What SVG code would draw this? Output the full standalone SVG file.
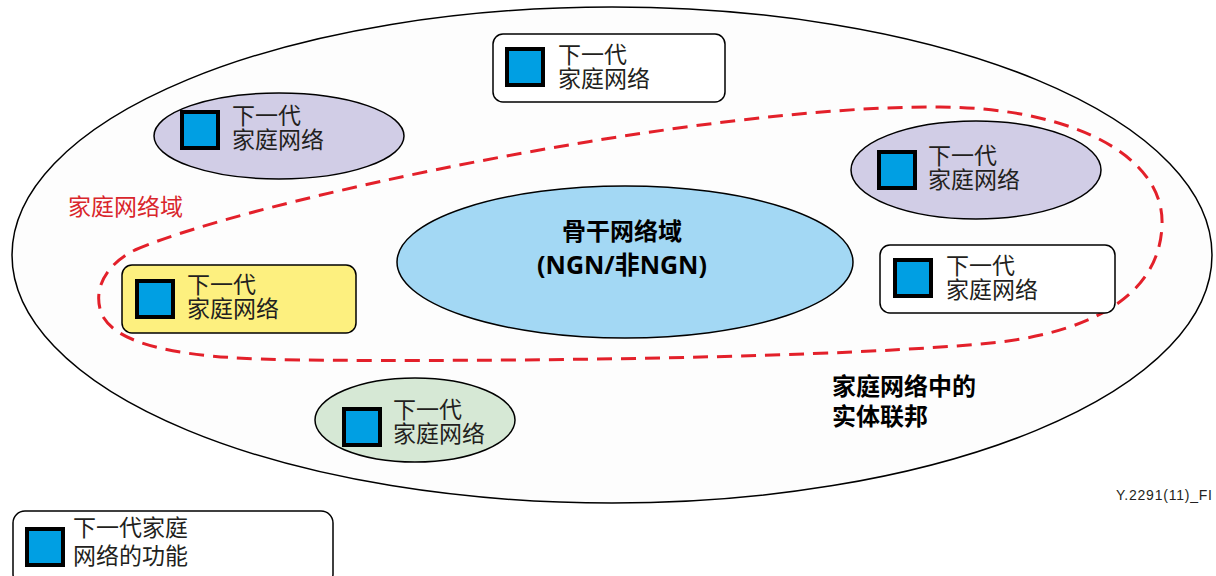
<svg xmlns="http://www.w3.org/2000/svg" width="1216" height="576" viewBox="0 0 1216 576">
<defs>
<style>
.t{font-family:"Liberation Sans","Noto Sans CJK SC",sans-serif;font-size:23px;fill:#231f20}
.b{font-family:"Noto Sans","Noto Sans CJK SC",sans-serif;font-size:24px;font-weight:bold;fill:#000}
.sq{fill:#009fe3;stroke:#000;stroke-width:4}
.ln{stroke:#000;stroke-width:1.5}
.box{fill:#fff;stroke:#000;stroke-width:1.5}
.pur{fill:#d1cde6;stroke:#000;stroke-width:1.5}
</style>
<rect id="icon" width="36" height="36" class="sq"/>
</defs>
<rect width="1216" height="576" fill="#fff"/>
<g id="federation">
<ellipse cx="612" cy="255" rx="600" ry="248" fill="#fdfdfd" class="ln"/>
</g>
<g id="connectors">
<path d="M135,250 C250,200 700,105 940,107 C1080,108 1165,160 1162,225 C1160,290 1100,330 1000,342 C850,358 500,362 300,360 C200,359 120,350 102,315 C92,290 105,265 135,250 Z" fill="none" stroke="#e3202a" stroke-width="3" stroke-dasharray="15 9"/>
</g>
<g id="home-domain-label">
<text x="68" y="215" class="t" style="fill:#d9262c">家庭网络域</text>
</g>
<g id="backbone">
<ellipse cx="625" cy="262" rx="228" ry="76" fill="#a3d8f4" class="ln"/>
<text x="622" y="240" class="b" text-anchor="middle">骨干网络域</text>
<text x="622" y="274" class="b" text-anchor="middle" style="font-size:25px">(NGN/非NGN)</text>
</g>
<g id="node-top">
<rect x="493" y="34" width="232" height="68" rx="10" class="box"/>
<use href="#icon" x="507" y="49"/>
<text x="558" y="63" class="t">下一代</text>
<text x="558" y="87" class="t">家庭网络</text>
</g>
<g id="node-left-purple">
<ellipse cx="279" cy="136" rx="125" ry="43" class="pur"/>
<use href="#icon" x="182" y="112"/>
<text x="232" y="124" class="t">下一代</text>
<text x="232" y="148" class="t">家庭网络</text>
</g>
<g id="node-right-purple">
<ellipse cx="976" cy="170" rx="125" ry="49" class="pur"/>
<use href="#icon" x="879" y="152"/>
<text x="928" y="164" class="t">下一代</text>
<text x="928" y="188" class="t">家庭网络</text>
</g>
<g id="node-right-box">
<rect x="880" y="245" width="235" height="68" rx="10" class="box"/>
<use href="#icon" x="895" y="260"/>
<text x="946" y="274" class="t">下一代</text>
<text x="946" y="298" class="t">家庭网络</text>
</g>
<g id="node-yellow">
<rect x="122" y="265" width="234" height="68" rx="10" fill="#fdf07f" class="ln"/>
<use href="#icon" x="137" y="281"/>
<text x="187" y="293" class="t">下一代</text>
<text x="187" y="317" class="t">家庭网络</text>
</g>
<g id="node-green">
<ellipse cx="415" cy="420" rx="100" ry="42" fill="#d6e8d5" class="ln"/>
<use href="#icon" x="344" y="409"/>
<text x="393" y="418" class="t">下一代</text>
<text x="393" y="442" class="t">家庭网络</text>
</g>
<g id="federation-label">
<text x="832" y="395" class="b">家庭网络中的</text>
<text x="832" y="425" class="b">实体联邦</text>
</g>
<g id="figure-id">
<text x="1116" y="500" textLength="96" style="font-family:'Liberation Sans',sans-serif;font-size:14px;fill:#231f20">Y.2291(11)_FI</text>
</g>
<g id="legend">
<rect x="13" y="511" width="320" height="75" rx="12" class="box"/>
<use href="#icon" x="27" y="529"/>
<text x="73" y="536" class="t">下一代家庭</text>
<text x="73" y="564" class="t">网络的功能</text>
</g>
</svg>
